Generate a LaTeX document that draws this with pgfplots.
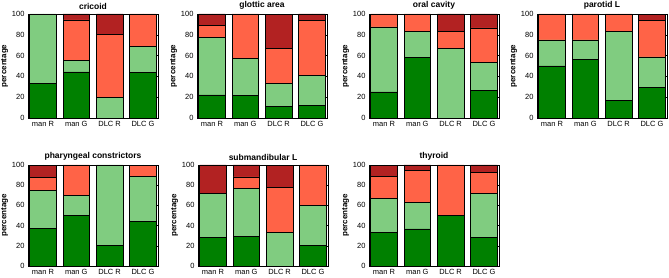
\documentclass[border=0pt]{standalone}
\usepackage{fontspec}
\setmainfont{Liberation Sans}
\usepackage{pgfplots}
\pgfplotsset{compat=1.18}
\definecolor{dg}{RGB}{0,128,0}
\definecolor{lg}{RGB}{128,204,128}
\definecolor{sal}{RGB}{255,99,71}
\definecolor{dr}{RGB}{178,34,34}
\pgfplotsset{panel/.style={
  anchor=south west, width=130pt, scale only axis,
  ybar stacked, bar width=0.8,
  xmin=0.55, xmax=4.45, ymin=0, ymax=100,
  xtick={1,2,3,4}, xticklabels={man R,man G,DLC R,DLC G},
  ytick={0,20,...,100},
  tick align=inside, major tick length=2pt,
  tick style={black, line width=0.4pt},
  ylabel={percentage}, ylabel shift=-3pt,
  title style={font=\bfseries\fontsize{8.5}{9}\selectfont, yshift=-5pt},
  ticklabel style={font=\fontsize{7.5}{8}\selectfont},
  ylabel style={font=\bfseries\fontsize{8}{8}\selectfont},
  every axis plot/.append style={draw=black, line width=0.6pt},
  axis line style={line width=0.6pt},
  /pgf/number format/assume math mode=true,
}}
\newcommand{\panel}[8]{%
\begin{axis}[panel, at={(#1pt,#2pt)}, height=#3pt, title={#4}]
\addplot[fill=dg] coordinates {#5};
\addplot[fill=lg] coordinates {#6};
\addplot[fill=sal] coordinates {#7};
\addplot[fill=dr] coordinates {#8};
\end{axis}}
\begin{document}
\begin{tikzpicture}
\path[use as bounding box] (0,0) rectangle (669pt,278pt);
\panel{28}{160}{104}{cricoid}
 {(1,33.3) (2,44.4) (3,0) (4,43.75)}
 {(1,66.7) (2,11.1) (3,20) (4,25)}
 {(1,0) (2,38.9) (3,60) (4,31.25)}
 {(1,0) (2,5.6) (3,20) (4,0)}
\panel{197}{160}{104}{glottic area}
 {(1,22.2) (2,21.4) (3,11.1) (4,11.8)}
 {(1,55.6) (2,35.7) (3,22.2) (4,29.4)}
 {(1,11.1) (2,42.9) (3,33.3) (4,52.9)}
 {(1,11.1) (2,0) (3,33.3) (4,5.9)}
\panel{369}{160}{104}{oral cavity}
 {(1,25) (2,58.3) (3,0) (4,26.7)}
 {(1,62.5) (2,25) (3,66.7) (4,26.7)}
 {(1,12.5) (2,16.7) (3,16.7) (4,33.3)}
 {(1,0) (2,0) (3,16.7) (4,13.3)}
\panel{537}{160}{104}{parotid L}
 {(1,50) (2,56.25) (3,16.7) (4,29.4)}
 {(1,25) (2,18.75) (3,66.7) (4,29.4)}
 {(1,25) (2,25) (3,16.7) (4,35.3)}
 {(1,0) (2,0) (3,0) (4,5.9)}
\panel{28}{12}{101}{pharyngeal constrictors}
 {(1,37.5) (2,50) (3,20) (4,44.4)}
 {(1,37.5) (2,20) (3,80) (4,44.4)}
 {(1,12.5) (2,30) (3,0) (4,11.1)}
 {(1,12.5) (2,0) (3,0) (4,0)}
\panel{198}{12}{101}{submandibular L}
 {(1,28.6) (2,29.4) (3,0) (4,20)}
 {(1,42.9) (2,47.1) (3,33.3) (4,40)}
 {(1,0) (2,11.8) (3,44.4) (4,40)}
 {(1,28.6) (2,11.8) (3,22.2) (4,0)}
\panel{369}{12}{101}{thyroid}
 {(1,33.3) (2,36.8) (3,50) (4,28.6)}
 {(1,33.3) (2,26.3) (3,0) (4,42.9)}
 {(1,22.2) (2,31.6) (3,50) (4,21.4)}
 {(1,11.1) (2,5.3) (3,0) (4,7.1)}
\end{tikzpicture}
\end{document}
